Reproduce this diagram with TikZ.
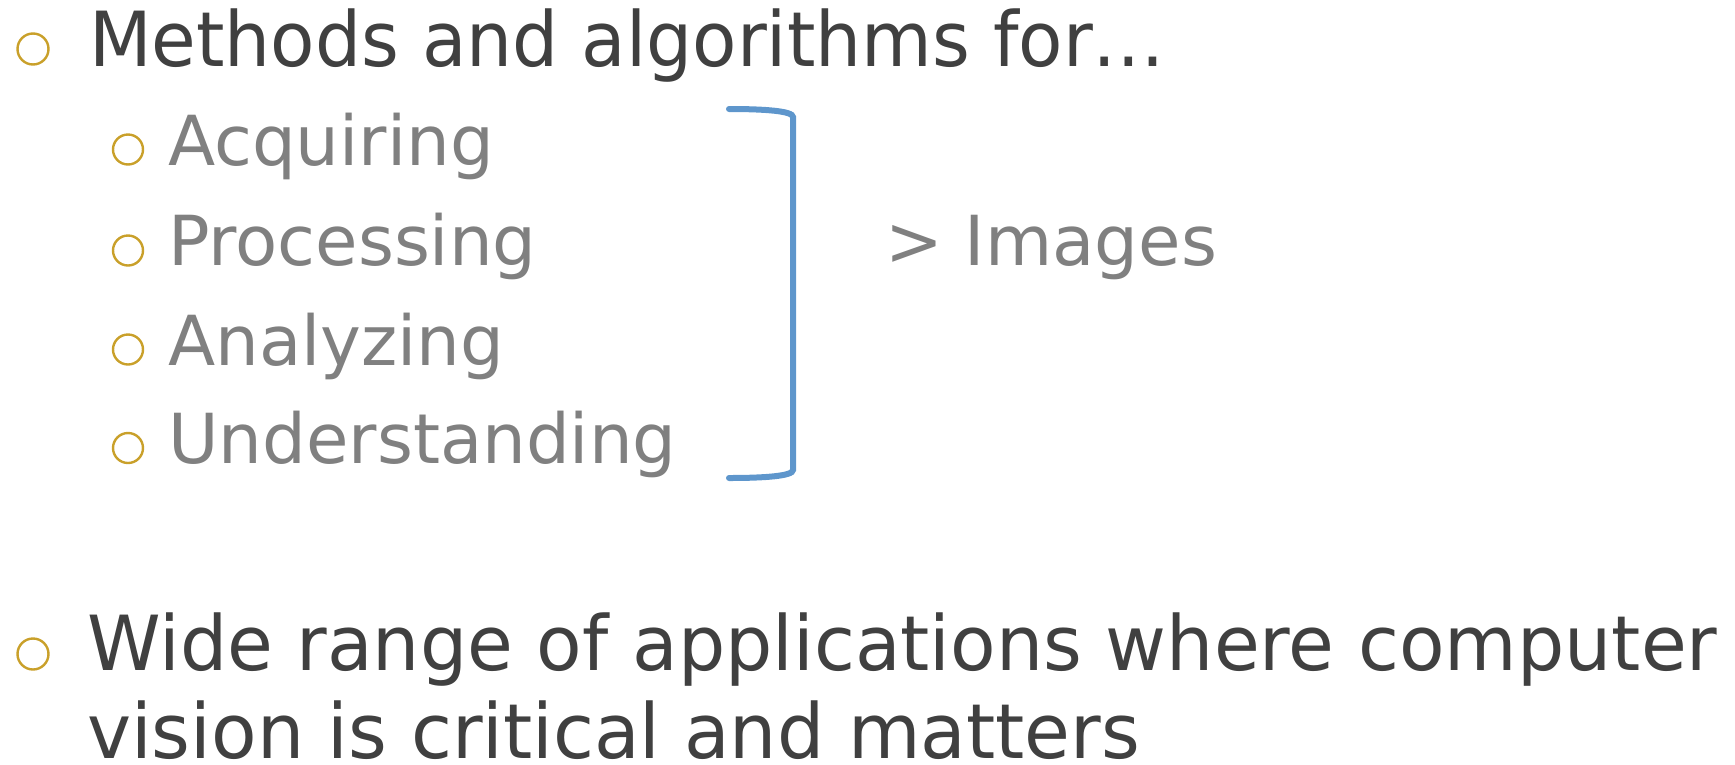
\documentclass[tikz,border=0pt]{standalone}
\usepackage{graphicx}
\usepackage{fontspec}
\setmainfont{DejaVu Sans}
\definecolor{maintext}{HTML}{404040}
\definecolor{subtext}{HTML}{808080}
\definecolor{bulletgold}{HTML}{C9A02A}
\definecolor{bracketblue}{HTML}{5E96CC}
\newcommand{\mainline}[2][0.955]{\scalebox{#1}[1.0]{#2}}
\tikzset{
  bigtext/.style={anchor=base west, inner sep=0pt, text=maintext, font=\fontsize{76}{92}\selectfont},
  subitem/.style={anchor=base west, inner sep=0pt, text=subtext, font=\fontsize{69}{83}\selectfont},
  ring/.style={circle, draw=bulletgold, line width=2.4pt, minimum size=31pt, inner sep=0pt},
  bracketline/.style={draw=bracketblue, line width=6pt, line cap=round}
}
\begin{document}
\begin{tikzpicture}[x=1pt,y=-1pt]
\useasboundingbox (0,0) rectangle (1735,764);
% top level
\node[ring] (b1) at (33,49) {};
\node[bigtext] (m1) at (89,66) {\mainline{Methods and algorithms for…}};
% sub items
\node[ring, minimum size=30pt] (s1) at (128,149.5) {};
\node[subitem] (t1) at (168,165) {Acquiring};
\node[ring, minimum size=30pt] (s2) at (128,250.5) {};
\node[subitem] (t2) at (168,265.5) {Processing};
\node[ring, minimum size=30pt] (s3) at (128,349.5) {};
\node[subitem] (t3) at (168,365) {Analyzing};
\node[ring, minimum size=30pt] (s4) at (128,448) {};
\node[subitem] (t4) at (168,463) {Understanding};
% bracket
\coordinate (bt) at (729,109);
\coordinate (bb) at (729,478);
\draw[bracketline] (bt) .. controls (765,109) and (793,111) .. (793,117)
  -- (793,470) .. controls (793,476) and (765,478) .. (bb);
\node[subitem] (img) at (885,265.5) {> Images};
% second top level
\node[ring] (b2) at (33,654) {};
\node[bigtext] (w1) at (87,670) {\mainline[0.98]{Wide range of applications where computer}};
\node[bigtext] (w2) at (87,758) {\mainline[0.98]{vision is critical and matters}};
\end{tikzpicture}
\end{document}
